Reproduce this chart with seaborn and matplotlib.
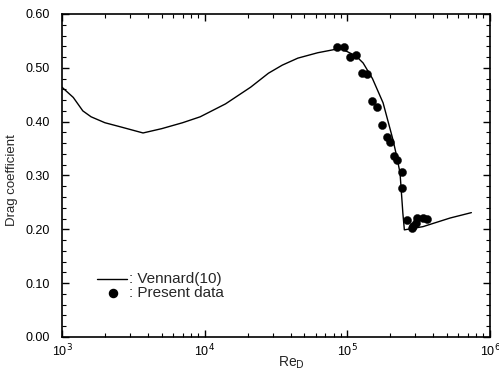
import numpy as np
import pandas as pd
import matplotlib
matplotlib.use("Agg")
import matplotlib.pyplot as plt
from matplotlib.ticker import MultipleLocator, LogLocator, NullFormatter, FixedLocator, FixedFormatter
import seaborn as sns

# Vennard (10) curve
vennard_re = [1000, 1200, 1400, 1600, 2000, 2600, 3700, 5000, 7000, 9300, 14000, 21000,
              28000, 35000, 45000, 62000, 89000, 100000, 115000, 129000, 150000, 178000,
              200000, 209000, 222000, 234000, 245000, 251000, 339000, 525000, 740000]
vennard_cd = [0.464, 0.445, 0.420, 0.409, 0.398, 0.390, 0.379, 0.387, 0.398, 0.409,
              0.433, 0.464, 0.490, 0.505, 0.518, 0.528, 0.536, 0.530, 0.522, 0.509,
              0.480, 0.435, 0.385, 0.366, 0.335, 0.305, 0.230, 0.199, 0.205, 0.221, 0.231]

# Present data
present_re = [85000, 95000, 105000, 115000, 126000, 138000, 148000, 162000, 174000,
              190000, 200000, 214000, 224000, 240000, 240000, 263000, 282000, 288000,
              302000, 309000, 339000, 363000]
present_cd = [0.539, 0.539, 0.520, 0.524, 0.491, 0.489, 0.439, 0.428, 0.394, 0.372,
              0.362, 0.337, 0.329, 0.307, 0.276, 0.218, 0.203, 0.207, 0.212, 0.221,
              0.221, 0.219]

df_line = pd.DataFrame({"Re": vennard_re, "Cd": vennard_cd})
df_pts = pd.DataFrame({"Re": present_re, "Cd": present_cd})

sns.set_style("ticks")
plt.rcParams["font.family"] = ["Liberation Sans", "DejaVu Sans"]

fig = plt.figure(figsize=(4.99, 3.70), dpi=100)
ax = fig.add_axes([0.1242, 0.0892, 0.8578, 0.8730])

sns.lineplot(data=df_line, x="Re", y="Cd", ax=ax, color="black", linewidth=1.0,
             sort=False, label=None)
sns.scatterplot(data=df_pts, x="Re", y="Cd", ax=ax, color="black", s=34,
                edgecolor="black", linewidth=0.3, zorder=3)

ax.set_xscale("log")
ax.set_xlim(1e3, 1e6)
ax.set_ylim(0, 0.60)

ax.xaxis.set_major_locator(FixedLocator([1e3, 1e4, 1e5, 1e6]))
ax.xaxis.set_major_formatter(FixedFormatter([r"10$^3$", r"10$^4$", r"10$^5$", r"10$^6$"]))
ax.xaxis.set_minor_locator(LogLocator(base=10, subs=np.arange(2, 10), numticks=20))
ax.xaxis.set_minor_formatter(NullFormatter())

ax.yaxis.set_minor_locator(MultipleLocator(0.02))
ax.set_yticks([0, 0.1, 0.2, 0.3, 0.4, 0.5, 0.6])
ax.set_yticklabels(["0.00", "0.10", "0.20", "0.30", "0.40", "0.50", "0.60"])

ax.tick_params(which="both", direction="in", top=True, right=True, colors="black",
               labelsize=9)
ax.tick_params(axis="y", which="major", pad=9)
ax.tick_params(axis="x", which="major", pad=4)
ax.tick_params(which="major", length=5, width=1.0)
ax.tick_params(which="minor", length=3, width=0.8)
for s in ax.spines.values():
    s.set_linewidth(1.2)
    s.set_color("black")

ax.set_xlabel(r"Re$_{\rm D}$", fontsize=10)
ax.xaxis.set_label_coords(0.535, -0.055)
ax.set_ylabel("Drag coefficient", fontsize=9.5)
ax.yaxis.set_label_coords(-0.103, 0.486)

# legend drawn as text-like entries
ax.plot([1.76e3, 2.85e3], [0.108, 0.108], color="black", lw=1.0)
ax.text(2.95e3, 0.108, ": Vennard(10)", fontsize=11, va="center")
ax.scatter([2.28e3], [0.081], color="black", s=34)
ax.text(2.95e3, 0.081, ": Present data", fontsize=11, va="center")

if ax.get_legend() is not None:
    ax.get_legend().remove()

fig.savefig("out.png", dpi=100)
